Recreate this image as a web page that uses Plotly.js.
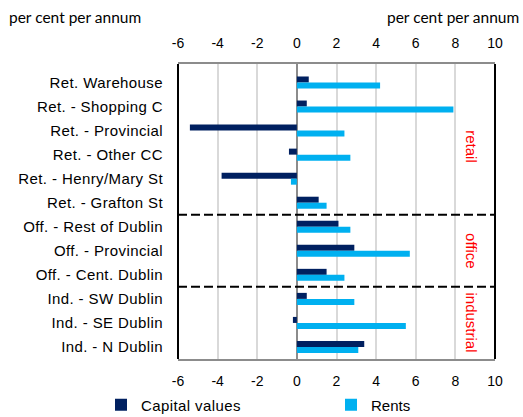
<!DOCTYPE html>
<html>
<head>
<meta charset="utf-8">
<script src="https://cdn.plot.ly/plotly-3.0.1.min.js"></script>
<style>
html,body{margin:0;padding:0;background:#fff;}
#chart{width:523px;height:417px;}
#chart .ytick text{letter-spacing:0.4px;}
#chart .legendtext{letter-spacing:0.4px;}
</style>
</head>
<body>
<div id="chart"></div>
<script>
const categories = ["Ret. Warehouse", "Ret. - Shopping C", "Ret. - Provincial", "Ret. - Other CC",
  "Ret. - Henry/Mary St", "Ret. - Grafton St", "Off. - Rest of Dublin", "Off. - Provincial",
  "Off. - Cent. Dublin", "Ind. - SW Dublin", "Ind. - SE Dublin", "Ind. - N Dublin"];
const capitalValues = [0.6, 0.5, -5.4, -0.4, -3.8, 1.1, 2.1, 2.9, 1.5, 0.5, -0.2, 3.4];
const rents = [4.2, 7.9, 2.4, 2.7, -0.3, 1.5, 2.7, 5.7, 2.4, 2.9, 5.5, 3.1];
const xTicks = [-6, -4, -2, 0, 2, 4, 6, 8, 10];
const sectorLabels = ["retail", "office", "industrial"];
const sectorCenters = [2.67, 6.99, 9.96];
const dividers = [5.5, 8.5];

const font = "Liberation Sans, Arial, sans-serif";

const traces = [
  {type: "bar", orientation: "h", name: "Capital values", y: categories, x: capitalValues,
   marker: {color: "#002060"}, xaxis: "x", yaxis: "y", legend: "legend"},
  {type: "bar", orientation: "h", name: "Rents", y: categories, x: rents,
   marker: {color: "#00B0F0"}, xaxis: "x", yaxis: "y", legend: "legend2"}
];

const shapes = dividers.map(v => ({type: "line", xref: "paper", yref: "y", x0: 0, x1: 1, y0: v, y1: v,
  line: {color: "#000", width: 2, dash: "9px,4px"}}));
shapes.push({type: "line", xref: "paper", yref: "paper", x0: 0, x1: 0, y0: 0, y1: 1, line: {color: "#000", width: 2}});
shapes.push({type: "line", xref: "paper", yref: "paper", x0: 1, x1: 1, y0: 0, y1: 1, line: {color: "#000", width: 2}});

const annotations = sectorLabels.map((t, i) => ({text: t, xref: "paper", yref: "y", x: 0.959, y: sectorCenters[i],
  textangle: 90, showarrow: false, font: {family: font, size: 15, color: "#FF0000"}}));
annotations.push({text: "per cent per annum", xref: "paper", yref: "paper", x: (7-178)/317, y: 1, yshift: 47,
  xanchor: "left", yanchor: "middle", showarrow: false, font: {family: "Lato, sans-serif", size: 15.5, color: "#000"}});
annotations.push({text: "per cent per annum", xref: "paper", yref: "paper", x: (521-178)/317, y: 1, yshift: 47,
  xanchor: "right", yanchor: "middle", showarrow: false, font: {family: "Lato, sans-serif", size: 15.5, color: "#000"}});

const axisCommon = {range: [-6, 10], tickvals: xTicks, ticktext: xTicks.map(String), ticks: "",
  tickfont: {family: font, size: 14, color: "#000"}, fixedrange: true};

const legendCommon = {orientation: "h", xanchor: "left", yref: "container", y: 1 - 405/417, yanchor: "middle",
  font: {family: font, size: 15, color: "#000"}, itemwidth: 30, bgcolor: "rgba(0,0,0,0)"};

const layout = {
  width: 523, height: 417,
  margin: {l: 178, r: 28, t: 64, b: 58, autoexpand: false},
  paper_bgcolor: "#fff", plot_bgcolor: "#fff",
  barmode: "group", bargap: 0.5, bargroupgap: 0,
  showlegend: true,
  legend: Object.assign({}, legendCommon, {x: (101-178)/317}),
  legend2: Object.assign({}, legendCommon, {x: (331-178)/317}),
  xaxis: Object.assign({}, axisCommon, {side: "bottom", showgrid: true, gridcolor: "#D9D9D9", gridwidth: 2,
    zeroline: true, zerolinecolor: "#8C8C8C", zerolinewidth: 2,
    showline: true, linecolor: "#8C8C8C", linewidth: 2, mirror: false, ticklabelstandoff: 8}),
  xaxis2: Object.assign({}, axisCommon, {side: "top", overlaying: "x", anchor: "y", showgrid: false, zeroline: false,
    showline: true, linecolor: "#8C8C8C", linewidth: 2, ticklabelstandoff: 8}),
  yaxis: {type: "category", categoryorder: "array", categoryarray: categories, autorange: "reversed",
    showgrid: false, zeroline: false, showline: false, ticks: "", ticklabelstandoff: 14,
    tickfont: {family: font, size: 15, color: "#000"}, fixedrange: true},
  shapes: shapes,
  annotations: annotations
};

traces.push({type: "scatter", x: [0], y: [categories[0]], xaxis: "x2", yaxis: "y", mode: "markers",
  marker: {opacity: 0}, showlegend: false, hoverinfo: "skip"});

Plotly.newPlot("chart", traces, layout, {displayModeBar: false, staticPlot: true});
</script>
</body>
</html>
